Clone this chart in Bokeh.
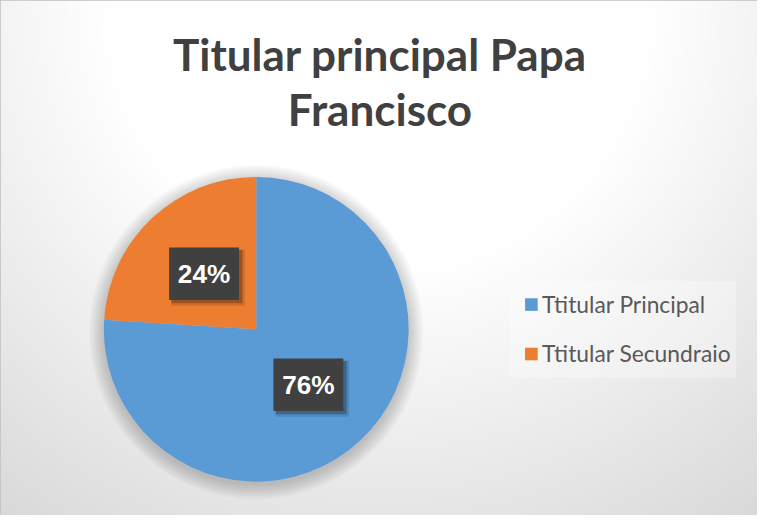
import numpy as np
from bokeh.plotting import figure
from bokeh.models import Range1d, ColumnDataSource
from bokeh.core.properties import value
from bokeh.embed import file_html
from bokeh.resources import INLINE

# ---- data ----
title_lines = ["Titular principal Papa", "Francisco"]
categories = ["Ttitular Principal", "Ttitular Secundraio"]
shares = [76, 24]
colors = ["#5B9BD5", "#ED7D31"]

# ---- layout (reference pixel space) ----
W_REF, H_REF = 780, 531
W, H = 757, 515
s = H / H_REF
BASE_FIX = 0.40  # empirical baseline correction (in em)

def Y(yref):
    return H_REF - yref

p = figure(width=W, height=H, x_range=Range1d(0, W_REF), y_range=Range1d(0, H_REF),
           output_backend="svg", toolbar_location=None, x_axis_type=None, y_axis_type=None,
           min_border=0)
p.grid.visible = False
p.outline_line_color = "#bfbfbf"
p.outline_line_width = 2
p.background_fill_color = "#ffffff"
p.border_fill_color = "#ffffff"

# background radial gradient
ny, nx = 177, 260
xs = (np.arange(nx) + 0.5) * W_REF / nx
yd = (np.arange(ny) + 0.5) * H_REF / ny
X, YD = np.meshgrid(xs, yd)
d = np.hypot(X - 390, (H_REF - YD) - 0)
g = np.clip(283 - 0.1 * d, 200, 255).astype(np.uint8)
img = np.empty((ny, nx), dtype=np.uint32)
view = img.view(dtype=np.uint8).reshape((ny, nx, 4))
view[..., 0] = g
view[..., 1] = g
view[..., 2] = g
view[..., 3] = 255
p.image_rgba(image=[img], x=0, y=0, dw=W_REF, dh=H_REF)

# title
tfs = 44.0
for i, line in enumerate(title_lines):
    p.text(x=[391], y=[Y(73 + 57 * i - BASE_FIX * tfs / s)], text=[line], text_align="center",
           text_baseline="alphabetic", text_font=value("Lato"), text_font_style="bold",
           text_font_size=f"{tfs:.1f}px", text_color="#404040")

# pie
cx, cy, R = 263.5, Y(339), 157
for k in range(10):
    p.circle(x=[cx], y=[cy - 3], radius=R + 1 + k * 1.6, fill_color="black",
             fill_alpha=0.018, line_color=None)

fr = np.array(shares, dtype=float) / sum(shares)
cum = np.concatenate([[0.0], np.cumsum(fr)])
start = np.pi / 2 - cum[:-1] * 2 * np.pi
end = np.pi / 2 - cum[1:] * 2 * np.pi
src = ColumnDataSource(dict(start=start, end=end, color=colors, cat=categories))
p.wedge(x=cx, y=cy, radius=R, start_angle="start", end_angle="end", direction="clock",
        fill_color="color", line_color=None, source=src)

# data labels
mid = (start + end) / 2
lx = cx + 0.5 * R * np.cos(mid)
ly = cy + 0.5 * R * np.sin(mid)
bw, bh = 72, 54
p.rect(x=lx + 4, y=ly - 4, width=bw + 4, height=bh + 4, fill_color="black", fill_alpha=0.12, line_color=None)
p.rect(x=lx + 3, y=ly - 3, width=bw + 1, height=bh + 1, fill_color="black", fill_alpha=0.25, line_color=None)
p.rect(x=lx, y=ly, width=bw, height=bh, fill_color="#404040", line_color=None)
p.text(x=lx, y=ly - 0.5, text=[f"{v}%" for v in shares], text_align="center", text_baseline="middle",
       text_font=value("Liberation Sans"), text_font_style="bold",
       text_font_size=f"{27 * s:.1f}px", text_color="white")

# legend
p.rect(x=[(525 + 758) / 2], y=[Y((289 + 389) / 2)], width=758 - 525, height=389 - 289,
       fill_color="white", fill_alpha=0.3, line_color=None)
n = len(categories)
lfs = 22.8
leg_y = np.array([313.5 + 51 * i for i in range(n)])
p.rect(x=[547] * n, y=Y(leg_y), width=13, height=13, fill_color=colors, line_color=None)
p.text(x=[558] * n, y=Y(leg_y + 8.5 - BASE_FIX * lfs / s), text=categories, text_align="left",
       text_baseline="alphabetic", text_font=value("Lato"), text_font_size=f"{lfs:.1f}px",
       text_color="#595959")

open("out.html", "w").write(file_html(p, INLINE))
